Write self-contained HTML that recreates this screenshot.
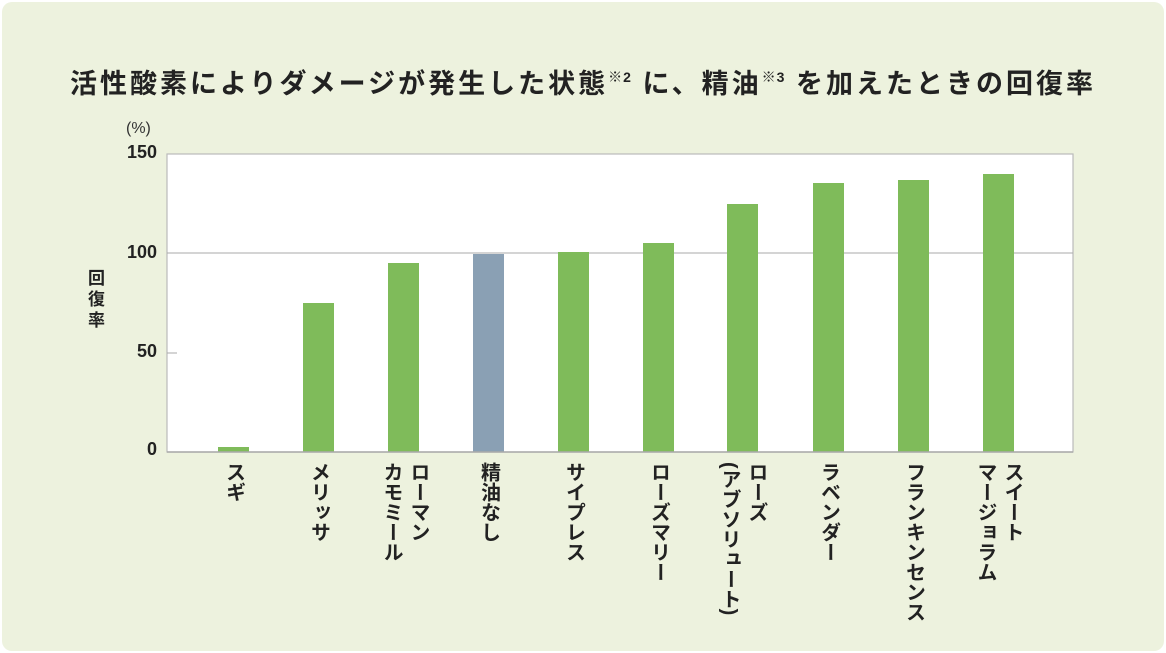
<!DOCTYPE html>
<html><head><meta charset="utf-8"><style>
body{margin:0;width:1166px;height:653px;background:#fff;overflow:hidden;font-family:"Liberation Sans","Noto Sans CJK JP",sans-serif;}
.bg{position:absolute;left:2px;top:2px;width:1162px;height:649px;background:#edf2de;border-radius:10px;}
.title{position:absolute;left:0;width:1166px;top:62px;text-align:center;font-size:27px;font-weight:bold;color:#222;letter-spacing:3px;white-space:nowrap;}
.title sup{font-size:14px;font-weight:bold;vertical-align:11px;letter-spacing:1px;}
.lbl{position:absolute;top:462px;writing-mode:vertical-rl;font-size:20px;font-weight:bold;color:#222;line-height:27px;transform:translateX(-50%);}
.yl{position:absolute;font-size:18px;font-weight:bold;color:#222;text-align:right;width:40px;}
</style></head><body>
<div class="bg"></div>
<div class="title">活性酸素によりダメージが発生した状態<sup>※2</sup> に、精油<sup>※3</sup> を加えたときの回復率</div>
<div style="position:absolute;left:126px;top:120px;font-size:16px;color:#333">(%)</div>
<div class="yl" style="left:117px;top:142px">150</div>
<div class="yl" style="left:117px;top:242px">100</div>
<div class="yl" style="left:117px;top:341px">50</div>
<div class="yl" style="left:117px;top:439px">0</div>
<div style="position:absolute;left:88px;top:268px;width:20px;font-size:17px;font-weight:bold;line-height:21px;color:#222">回<br>復<br>率</div>
<svg style="position:absolute;left:0;top:0" width="1166" height="653">
<rect x="167" y="154" width="906" height="298" fill="#fff" stroke="#bbb" stroke-width="1.2"/>
<line x1="167" y1="253" x2="1073" y2="253" stroke="#aaa" stroke-width="1"/>
<line x1="167" y1="353" x2="177" y2="353" stroke="#aaa" stroke-width="1"/>
<g fill="#7fbb5a">
<rect x="218" y="447" width="31" height="5"/>
<rect x="303" y="303" width="31" height="149"/>
<rect x="388" y="263" width="31" height="189"/>
<rect x="473" y="254" width="31" height="198" fill="#8aa0b4"/>
<rect x="558" y="252" width="31" height="200"/>
<rect x="643" y="243" width="31" height="209"/>
<rect x="727" y="204" width="31" height="248"/>
<rect x="813" y="183" width="31" height="269"/>
<rect x="898" y="180" width="31" height="272"/>
<rect x="983" y="174" width="31" height="278"/>
</g>
<line x1="167" y1="452" x2="1073" y2="452" stroke="#aaa" stroke-width="1.5"/>
</svg>
<div class="lbl" style="left:233px">スギ</div>
<div class="lbl" style="left:318px">メリッサ</div>
<div class="lbl" style="left:404px">ローマン<br>カモミール</div>
<div class="lbl" style="left:488px">精油なし</div>
<div class="lbl" style="left:573px">サイプレス</div>
<div class="lbl" style="left:658px">ローズマリー</div>
<div class="lbl" style="left:742px">ローズ<br>(アブソリュート)</div>
<div class="lbl" style="left:828px">ラベンダー</div>
<div class="lbl" style="left:913px">フランキンセンス</div>
<div class="lbl" style="left:998px">スイート<br>マージョラム</div>
</body></html>
